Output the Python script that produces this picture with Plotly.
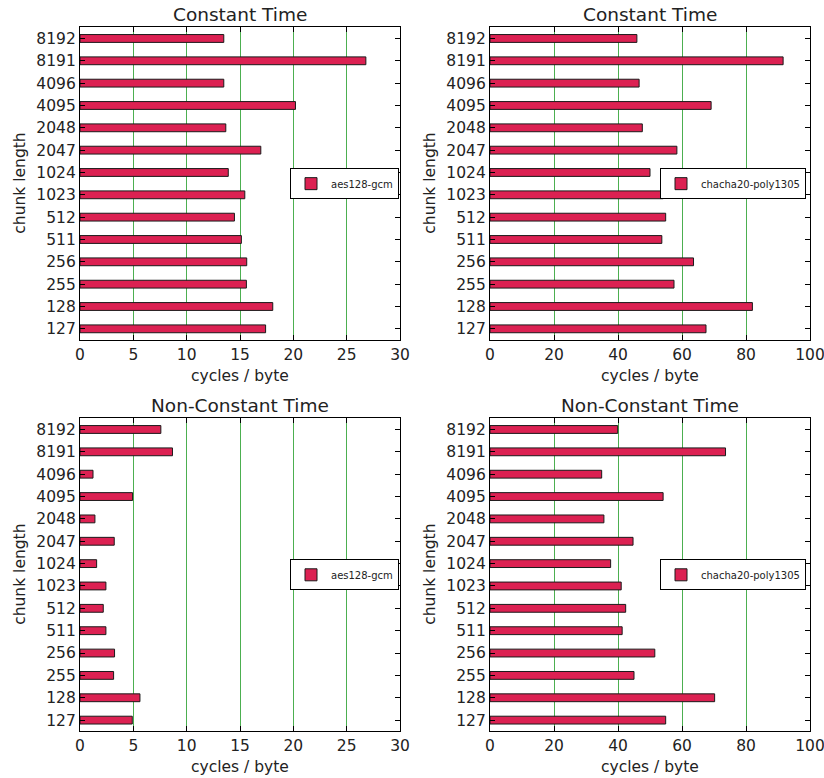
import plotly.graph_objects as go

categories = ["127", "128", "255", "256", "511", "512", "1023", "1024",
              "2047", "2048", "4095", "4096", "8191", "8192"]

aes_ct = [17.4, 18.07, 15.6, 15.63, 15.13, 14.48, 15.45, 13.9,
          16.95, 13.67, 20.2, 13.48, 26.8, 13.48]
chacha_ct = [67.5, 82.0, 57.5, 63.6, 53.7, 54.9, 54.1, 50.0,
             58.4, 47.6, 69.1, 46.6, 91.6, 45.9]
aes_nct = [4.9, 5.62, 3.15, 3.24, 2.43, 2.18, 2.43, 1.56,
           3.21, 1.4, 4.93, 1.22, 8.67, 7.58]
chacha_nct = [54.9, 70.2, 45.0, 51.5, 41.3, 42.4, 41.0, 37.7,
              44.7, 35.6, 54.1, 34.9, 73.6, 39.9]

titles = ["Constant Time", "Constant Time", "Non-Constant Time", "Non-Constant Time"]
series_names = ["aes128-gcm", "chacha20-poly1305", "aes128-gcm", "chacha20-poly1305"]
x_ticks_aes = [0, 5, 10, 15, 20, 25, 30]
x_ticks_chacha = [0, 20, 40, 60, 80, 100]

W, H = 824, 778
BAR = "#dc2152"
GRID = "#4caf50"
FONT = "DejaVu Sans"

# pixel boxes in the window (left, right, top, bottom)
boxes = [(80, 400, 27.3, 340), (490, 810, 27.3, 340),
         (80, 400, 418.3, 731.3), (490, 810, 418.3, 731.3)]
data = [aes_ct, chacha_ct, aes_nct, chacha_nct]
xranges = [[0, 30], [0, 100], [0, 30], [0, 100]]
xticks = [x_ticks_aes, x_ticks_chacha, x_ticks_aes, x_ticks_chacha]
legend_right = [399, 806, 399, 806]


def px(x):
    return x / W


def py(y):
    return 1 - y / H


fig = go.Figure()
annotations = []
layout = {}
for i in range(4):
    sfx = "" if i == 0 else str(i + 1)
    l, r, t, b = boxes[i]
    lg = "legend" if i == 0 else "legend" + str(i + 1)
    fig.add_trace(go.Bar(
        x=data[i], y=categories, orientation="h", width=0.35,
        name=series_names[i], legend=lg,
        marker=dict(color=BAR, line=dict(color="#1a1a1a", width=1)),
        xaxis="x" + sfx, yaxis="y" + sfx, showlegend=True,
    ))
    layout["xaxis" + sfx] = dict(
        domain=[px(l), px(r)], anchor="y" + sfx, range=xranges[i],
        tickvals=xticks[i], ticks="inside", ticklen=5, tickcolor="black",
        showline=True, linecolor="black", linewidth=1.2, mirror="ticks",
        showgrid=True, gridcolor=GRID, gridwidth=1, zeroline=False,
        automargin=False, ticklabeloverflow="allow",
        tickfont=dict(family=FONT, size=15.5, color="#222"),
    )
    layout["yaxis" + sfx] = dict(
        domain=[py(b), py(t)], anchor="x" + sfx, type="category",
        categoryorder="array", categoryarray=categories,
        range=[-0.5, 13.5], ticks="inside", ticklen=5, tickcolor="black",
        showline=True, linecolor="black", linewidth=1.2, mirror="ticks",
        showgrid=False, zeroline=False, automargin=False,
        tickfont=dict(family=FONT, size=15.5, color="#222"),
    )
    layout[lg] = dict(
        x=px(legend_right[i]), xanchor="right",
        y=py((t + b) / 2), yanchor="middle",
        bordercolor="black", borderwidth=1, bgcolor="white",
        font=dict(family=FONT, size=10, color="#222"),
    )
    cx = (l + r) / 2
    annotations.append(dict(text=titles[i], x=px(cx), y=py(t - 13),
                            xref="paper", yref="paper", showarrow=False,
                            xanchor="center", yanchor="middle",
                            font=dict(family=FONT, size=18.5, color="#222")))
    annotations.append(dict(text="cycles / byte", x=px(cx), y=py(b + 36),
                            xref="paper", yref="paper", showarrow=False,
                            xanchor="center", yanchor="middle",
                            font=dict(family=FONT, size=15.5, color="#222")))
    annotations.append(dict(text="chunk length", x=px(l - 60), y=py((t + b) / 2),
                            xref="paper", yref="paper", showarrow=False, textangle=-90,
                            xanchor="center", yanchor="middle",
                            font=dict(family=FONT, size=15.5, color="#222")))

fig.update_layout(
    template="none",
    width=W, height=H, margin=dict(l=0, r=0, t=0, b=0, autoexpand=False),
    paper_bgcolor="white", plot_bgcolor="white",
    annotations=annotations, bargap=0.5, **layout,
)

# remove the page's default 8px body margin so the figure fills the window
fig.write_html("out.html",
               config={"displayModeBar": False},
               post_script="document.body.style.margin='0';"
                           "document.body.style.overflow='hidden';")
